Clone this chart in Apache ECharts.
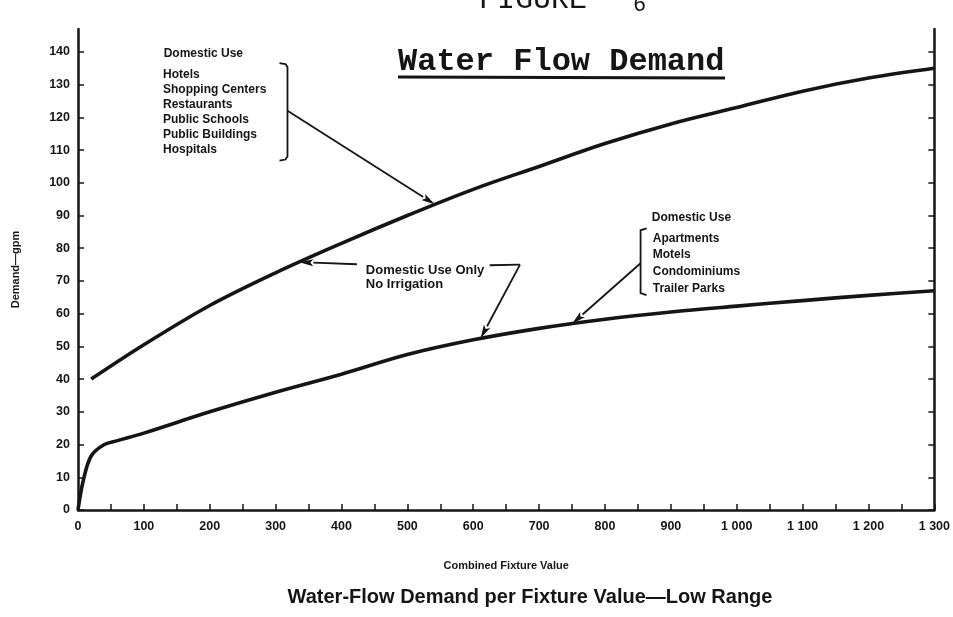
<!DOCTYPE html>
<html>
<head>
<meta charset="utf-8">
<script src="https://cdn.jsdelivr.net/npm/echarts@6/dist/echarts.min.js"></script>
<style>
html,body{margin:0;padding:0;background:#fff;}
#c{width:953px;height:617px;}
</style>
</head>
<body>
<div id="c"></div>
<script>
// ---------- data ----------
const xTickValues = [0,50,100,150,200,250,300,350,400,450,500,550,600,650,700,750,800,850,900,950,1000,1050,1100,1150,1200,1250,1300];
const xLabelValues = [0,100,200,300,400,500,600,700,800,900,1000,1100,1200,1300];
const yLabelValues = [0,10,20,30,40,50,60,70,80,90,100,110,120,130,140];

// Curve 1: hotels, shopping centers, restaurants, schools, public buildings, hospitals
const upperX = [20,100,200,300,400,500,600,700,800,900,1000,1100,1200,1300];
const upperY = [40,50.5,62.5,72.5,81.5,90,98,105,112,118,123,128,132,135];
// Curve 2: apartments, motels, condominiums, trailer parks
const lowerX = [0,8,20,40,60,100,200,300,400,500,600,700,800,900,1000,1100,1200,1300];
const lowerY = [0,9,16.5,20,21.2,23.5,30,36,41.5,47.5,52,55.5,58.3,60.5,62.3,64,65.6,67];

const upperUses = ['Hotels','Shopping Centers','Restaurants','Public Schools','Public Buildings','Hospitals'];
const lowerUses = ['Apartments','Motels','Condominiums','Trailer Parks'];
const headingText = 'Domestic Use';
const noteLines = ['Domestic Use Only','No Irrigation'];
const figureLabel = 'FIGURE';
const figureNumber = '6';
const mainTitle = 'Water Flow Demand';
const caption = 'Water-Flow Demand per Fixture Value\u2014Low Range';
const xName = 'Combined Fixture Value';
const yName = 'Demand\u2014gpm';

// ---------- annotation anchors (data coordinates) ----------
const notesLayout = {
  upperHeading: [130, 139.5],
  upperList: [129, 133],
  upperBracket: {x: 318, top: 136.6, bottom: 106.8, mid: 122},
  upperTipX: 542,
  note: [437, 73.1],
  noteArrowFrom: [423.4, 75.1],
  noteTipUpperX: 336,
  noteConnector: [[625, 74.8], [671, 75]],
  noteTipLowerX: 611,
  lowerHeading: [871, 89.3],
  lowerList: [872.5, 83],
  lowerBracket: {x: 854, top: 86.1, bottom: 65.7, mid: 75.4},
  lowerTipX: 750
};

const ink = '#151515';
const sans = '"Liberation Sans", Arial, sans-serif';
const mono = '"Liberation Mono", "Courier New", monospace';

function pairs(xs, ys) { return xs.map((x, i) => [x, ys[i]]); }
function fmtX(v) {
  if (v >= 1000) return Math.floor(v / 1000) + ' ' + String(v % 1000).padStart(3, '0');
  return String(v);
}
function curveAt(xs, ys, x) {
  for (let i = 0; i < xs.length - 1; i++) {
    if (x >= xs[i] && x <= xs[i + 1]) {
      const t = (x - xs[i]) / (xs[i + 1] - xs[i]);
      return ys[i] + t * (ys[i + 1] - ys[i]);
    }
  }
  return ys[ys.length - 1];
}

const chart = echarts.init(document.getElementById('c'), null, {renderer: 'canvas'});

const labelStyle = {color: ink, fontFamily: sans, fontWeight: 'bold', fontSize: 12.5};

chart.setOption({
  backgroundColor: '#ffffff',
  animation: false,
  grid: {left: 78, right: 13, top: 29, bottom: 107, containLabel: false},
  xAxis: {
    type: 'value', min: 0, max: 1300, interval: 50,
    axisLine: {show: true, lineStyle: {color: ink, width: 2.5}},
    axisTick: {show: true, inside: true, length: 6, lineStyle: {color: ink, width: 1.5}, customValues: xTickValues},
    axisLabel: Object.assign({customValues: xLabelValues, formatter: fmtX, margin: 10}, labelStyle),
    splitLine: {show: false},
    name: xName, nameLocation: 'middle', nameGap: 50,
    nameTextStyle: {color: ink, fontFamily: sans, fontWeight: 'bold', fontSize: 11}
  },
  yAxis: [{
    type: 'value', min: 0, max: 147, interval: 10, position: 'left',
    axisLine: {show: true, lineStyle: {color: ink, width: 2.5}},
    axisTick: {show: true, inside: true, length: 6, lineStyle: {color: ink, width: 1.5}, customValues: yLabelValues},
    axisLabel: Object.assign({customValues: yLabelValues, margin: 8}, labelStyle),
    splitLine: {show: false},
    name: yName, nameLocation: 'middle', nameGap: 57, nameRotate: 90,
    nameTextStyle: {color: ink, fontFamily: sans, fontWeight: 'bold', fontSize: 11}
  }, {
    type: 'value', min: 0, max: 147, interval: 10, position: 'right',
    axisLine: {show: true, lineStyle: {color: ink, width: 2.5}},
    axisTick: {show: true, inside: true, length: 6, lineStyle: {color: ink, width: 1.5}, customValues: yLabelValues},
    axisLabel: {show: false},
    splitLine: {show: false}
  }],
  series: [{
    name: 'Curve 1', type: 'line', data: pairs(upperX, upperY), smooth: 0.35,
    showSymbol: false, symbol: 'none', lineStyle: {color: ink, width: 3.6}, silent: true
  }, {
    name: 'Curve 2', type: 'line', data: pairs(lowerX, lowerY), smooth: 0.35,
    showSymbol: false, symbol: 'none', lineStyle: {color: ink, width: 3.6}, silent: true
  }]
});

// ---------- annotations placed through the chart's scales ----------
const finder = {xAxisIndex: 0, yAxisIndex: 0};
const P = (x, y) => chart.convertToPixel(finder, [x, y]);

function arrowEls(from, to, len, half) {
  const dx = to[0] - from[0], dy = to[1] - from[1];
  const d = Math.hypot(dx, dy), ux = dx / d, uy = dy / d;
  const bx = to[0] - ux * len, by = to[1] - uy * len;
  return [
    {type: 'line', shape: {x1: from[0], y1: from[1], x2: bx, y2: by}, style: {stroke: ink, lineWidth: 1.8}, silent: true},
    {type: 'polygon', shape: {points: [[to[0], to[1]], [bx - uy * half, by + ux * half], [bx + ux * 3, by + uy * 3], [bx + uy * half, by - ux * half]]},
     style: {fill: ink}, silent: true}
  ];
}
function textEl(pos, text, font, opts) {
  return {type: 'text', x: pos[0], y: pos[1], silent: true,
    style: Object.assign({text: text, font: font, fill: ink, align: 'left', verticalAlign: 'middle'}, opts || {})};
}

const L = notesLayout;
const els = [];
const smallBold = 'bold 12px ' + sans;

// Upper group
els.push(textEl(P(L.upperHeading[0], L.upperHeading[1]), headingText, smallBold));
const ul = P(L.upperList[0], L.upperList[1]);
els.push(textEl([ul[0], ul[1] - 7.5], upperUses.join('\n'), smallBold, {verticalAlign: 'top', lineHeight: 15}));
const ubT = P(L.upperBracket.x, L.upperBracket.top), ubB = P(L.upperBracket.x, L.upperBracket.bottom), ubM = P(L.upperBracket.x, L.upperBracket.mid);
const ubx = ubT[0];
els.push({type: 'polyline', silent: true, shape: {points: [[ubx - 8, ubT[1]], [ubx - 2, ubT[1] + 1], [ubx, ubT[1] + 4], [ubx, ubB[1] - 4], [ubx - 2, ubB[1] - 1], [ubx - 8, ubB[1]]]},
  style: {stroke: ink, lineWidth: 1.8, fill: null}});
els.push(...arrowEls([ubx, ubM[1]], P(L.upperTipX, curveAt(upperX, upperY, L.upperTipX)), 14, 3.5));

// "Domestic Use Only / No Irrigation"
const np = P(L.note[0], L.note[1]);
els.push(textEl([np[0], np[1] - 7], noteLines.join('\n'), 'bold 13px ' + sans, {verticalAlign: 'top', lineHeight: 14}));
els.push(...arrowEls(P(L.noteArrowFrom[0], L.noteArrowFrom[1]), P(L.noteTipUpperX, curveAt(upperX, upperY, L.noteTipUpperX)), 14, 3.5));
const c0 = P(L.noteConnector[0][0], L.noteConnector[0][1]);
const c1 = P(L.noteConnector[1][0], L.noteConnector[1][1]);
els.push({type: 'line', silent: true, shape: {x1: c0[0], y1: c0[1], x2: c1[0], y2: c1[1]}, style: {stroke: ink, lineWidth: 1.8}});
els.push(...arrowEls(c1, P(L.noteTipLowerX, curveAt(lowerX, lowerY, L.noteTipLowerX)), 14, 3.5));

// Lower group
els.push(textEl(P(L.lowerHeading[0], L.lowerHeading[1]), headingText, smallBold));
const ll = P(L.lowerList[0], L.lowerList[1]);
els.push(textEl([ll[0], ll[1] - 8.3], lowerUses.join('\n'), smallBold, {verticalAlign: 'top', lineHeight: 16.7}));
const lbT = P(L.lowerBracket.x, L.lowerBracket.top), lbB = P(L.lowerBracket.x, L.lowerBracket.bottom), lbM = P(L.lowerBracket.x, L.lowerBracket.mid);
const lbx = lbT[0];
els.push({type: 'polyline', silent: true, shape: {points: [[lbx + 6, lbT[1]], [lbx, lbT[1] + 2], [lbx, lbB[1] - 2], [lbx + 6, lbB[1]]]},
  style: {stroke: ink, lineWidth: 1.8, fill: null}});
els.push(...arrowEls([lbx, lbM[1]], P(L.lowerTipX, curveAt(lowerX, lowerY, L.lowerTipX)), 14, 3.5));

// Titles
els.push(textEl([479, 0], figureLabel, '30px ' + mono));
els.push(textEl([633, 5], figureNumber, '22px ' + mono));
els.push(textEl([398, 62], mainTitle, 'bold 32px ' + mono));
els.push({type: 'line', silent: true, shape: {x1: 398, y1: 77, x2: 725, y2: 78}, style: {stroke: ink, lineWidth: 3}});
els.push(textEl([530, 597], caption, 'bold 20px ' + sans, {align: 'center'}));

chart.setOption({graphic: {elements: els}});
</script>
</body>
</html>
